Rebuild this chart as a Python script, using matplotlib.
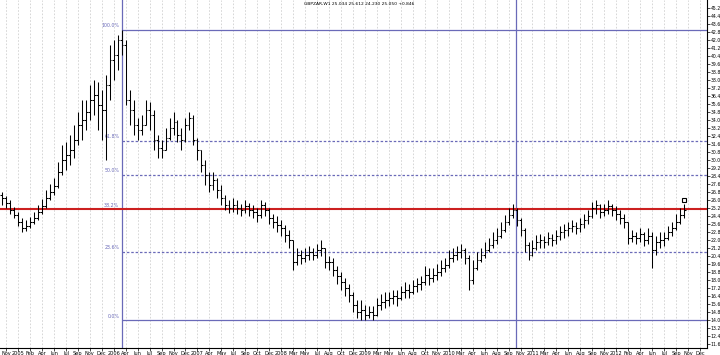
import matplotlib
matplotlib.use("Agg")
import matplotlib.pyplot as plt
import numpy as np
import pandas as pd

# bar data (high, low, close)
highs = [26.8, 26.4, 26.0, 25.3, 24.8, 24.2, 24.0, 24.3, 24.8, 25.5,
         26.1, 27.0, 27.6, 28.2, 29.8, 31.5, 31.8, 32.5, 33.5, 34.8,
         36.0, 36.0, 37.5, 38.0, 37.8, 37.0, 38.5, 41.5, 42.0, 42.5,
         43.0, 42.0, 37.0, 36.0, 34.2, 34.5, 36.0, 35.8, 35.0, 32.5,
         32.0, 33.2, 34.2, 34.8, 34.0, 33.2, 34.2, 34.8, 34.5, 32.2,
         31.0, 30.0, 28.8, 28.8, 28.2, 27.5, 26.5, 26.0, 26.2, 26.0,
         25.6, 26.0, 25.7, 25.5, 25.2, 26.0, 25.8, 25.2, 24.6, 24.4,
         24.0, 23.5, 23.0, 22.0, 21.2, 21.0, 21.2, 21.4, 21.2, 21.6,
         22.0, 21.2, 20.4, 20.2, 19.4, 18.8, 18.2, 17.6, 16.8, 16.0,
         16.0, 15.5, 15.4, 15.4, 16.2, 16.6, 16.8, 16.8, 17.0, 17.0,
         17.4, 17.8, 17.6, 18.0, 18.2, 18.4, 19.4, 19.2, 19.2, 19.6,
         20.0, 20.2, 21.0, 21.2, 21.4, 21.6, 21.2, 20.5, 20.0, 20.8,
         21.2, 21.8, 22.2, 22.8, 23.2, 23.8, 24.5, 25.2, 25.6, 25.2,
         24.2, 23.2, 21.8, 22.0, 22.5, 22.6, 22.4, 22.8, 22.6, 23.0,
         23.4, 23.6, 23.8, 24.0, 23.8, 24.2, 24.6, 25.0, 25.8, 26.0,
         25.6, 25.6, 26.0, 25.6, 25.4, 25.0, 24.6, 23.8, 23.0, 22.8,
         23.2, 22.8, 23.2, 22.8, 22.4, 22.8, 22.8, 23.4, 23.8, 24.6,
         25.2, 25.6]
lows = [25.5, 25.2, 24.6, 24.2, 23.4, 22.8, 22.9, 23.2, 23.6, 24.0,
        24.6, 25.2, 26.0, 26.5, 27.2, 28.5, 29.0, 29.5, 30.2, 31.5,
        32.0, 33.0, 34.0, 34.5, 33.0, 32.0, 30.0, 36.0, 38.0, 39.0,
        40.5, 35.5, 33.5, 32.5, 32.0, 32.5, 33.5, 33.0, 31.0, 30.2,
        30.2, 31.0, 32.0, 32.5, 31.8, 31.0, 31.8, 33.0, 31.5, 30.0,
        28.8, 27.5, 26.8, 27.0, 26.2, 25.5, 25.0, 24.7, 24.8, 24.6,
        24.4, 24.7, 24.4, 24.2, 23.8, 24.2, 24.4, 23.6, 23.2, 22.8,
        22.4, 21.8, 21.2, 19.0, 19.5, 19.6, 19.8, 20.0, 20.0, 20.2,
        20.4, 19.2, 19.0, 18.4, 17.6, 17.0, 16.4, 15.8, 14.8, 14.2,
        14.0, 14.0, 14.2, 14.0, 14.4, 15.0, 15.2, 15.4, 15.6, 15.4,
        16.0, 16.2, 16.2, 16.6, 16.8, 17.0, 17.5, 17.5, 17.8, 18.0,
        18.4, 18.8, 19.2, 19.8, 20.0, 20.2, 19.6, 17.0, 17.6, 19.0,
        19.8, 20.2, 20.8, 21.2, 21.6, 22.2, 22.8, 23.5, 24.2, 23.4,
        22.4, 20.8, 20.0, 20.4, 21.0, 21.2, 21.2, 21.5, 21.4, 21.6,
        22.0, 22.2, 22.4, 22.8, 22.6, 22.8, 23.2, 23.6, 24.2, 24.6,
        24.2, 24.4, 24.6, 24.4, 24.0, 23.6, 23.2, 21.6, 21.8, 21.6,
        21.8, 21.4, 21.6, 19.2, 20.5, 21.2, 21.4, 22.0, 22.4, 23.0,
        23.6, 24.2]
closes = [26.2, 25.7, 25.0, 24.5, 23.8, 23.2, 23.4, 23.8, 24.2, 24.8,
          25.4, 26.2, 26.8, 27.4, 28.8, 30.0, 30.5, 31.0, 32.0, 33.5,
          34.0, 34.8, 36.0, 36.5, 35.5, 35.0, 37.5, 40.0, 40.5, 42.0,
          41.5, 36.0, 35.0, 33.5, 33.0, 33.5, 35.0, 34.5, 32.0, 31.2,
          31.0, 32.2, 33.2, 33.8, 32.5, 32.0, 33.5, 34.2, 32.0, 31.0,
          29.5, 28.5, 27.5, 28.0, 27.0, 26.2, 25.5, 25.2, 25.5, 25.2,
          25.0, 25.4, 25.0, 24.8, 24.5, 25.5, 25.0, 24.2, 23.8, 23.5,
          23.2, 22.5, 22.0, 19.8, 20.5, 20.2, 20.5, 20.8, 20.5, 21.0,
          21.2, 19.8, 19.8, 19.0, 18.4, 17.8, 17.2, 16.5, 15.5, 14.8,
          15.0, 14.5, 14.8, 14.5, 15.5, 15.8, 16.0, 16.2, 16.4, 16.2,
          16.8, 17.0, 16.8, 17.4, 17.6, 17.8, 18.5, 18.2, 18.5, 18.8,
          19.2, 19.5, 20.2, 20.5, 20.8, 21.0, 20.2, 18.0, 19.2, 20.0,
          20.5, 21.0, 21.5, 22.0, 22.4, 23.0, 23.8, 24.5, 25.0, 24.0,
          23.0, 21.5, 20.5, 21.2, 21.8, 22.0, 21.8, 22.2, 22.0, 22.4,
          22.8, 23.0, 23.2, 23.4, 23.2, 23.6, 24.0, 24.4, 25.2, 25.5,
          24.8, 25.0, 25.4, 25.0, 24.6, 24.2, 23.8, 22.2, 22.4, 22.2,
          22.6, 22.0, 22.4, 21.0, 21.8, 22.0, 22.2, 22.8, 23.2, 23.8,
          24.5, 25.0]

fib_low, fib_high = 14.0, 43.0
fib_ratios = [0.0, 0.236, 0.382, 0.5, 0.618, 1.0]
fib_names = ["0.0%", "23.6%", "38.2%", "50.0%", "61.8%", "100.0%"]
fib_start = 30          # bar of the swing high
second_line = 128.75    # second vertical marker
last_marker = 26.0

title = "GBPZAR,W1 25.034 25.612 24.230 25.050 +0.846"

n = len(closes)
idx = np.arange(n)
c = np.array(closes)
o = np.concatenate([[c[0] + 0.3], c[:-1]])
hi = np.maximum(np.array(highs), np.maximum(o, c))
lo = np.minimum(np.array(lows), np.minimum(o, c))

fig = plt.figure(figsize=(7.2, 3.55), dpi=100)
ax = fig.add_axes([0, 7 / 355, 707 / 720, 348 / 355])

ax.set_xlim(-0.5, 176.75)
ax.set_ylim(11.2, 46.0)

# vertical dotted grid + date labels
dates = pd.date_range("2004-11-01", periods=n + 6, freq="17D")
gpos = np.arange(1, 177, 3)
labels = []
prev_year = None
for g in gpos:
    d = dates[min(g, len(dates) - 1)]
    if d.year != prev_year and prev_year is not None:
        labels.append(str(d.year))
    else:
        labels.append(d.strftime("%b"))
    prev_year = d.year
for g in gpos:
    ax.axvline(g, color="#d0d0d0", lw=0.6, ls=(0, (2, 2)), zorder=0)
ax.set_xticks(gpos)
ax.set_xticklabels(labels, fontsize=3.6)
ax.tick_params(axis="x", length=2, width=0.5, pad=0.5)

# fibonacci levels
blue = "#6a6ab8"
for r, name in zip(fib_ratios, fib_names):
    lvl = fib_low + r * (fib_high - fib_low)
    if r == 0.382:
        ax.axhline(lvl, color="#cc2020", lw=1.5, zorder=3)
    elif r in (0.0, 1.0):
        ax.hlines(lvl, fib_start, 176.75, color=blue, lw=0.9, zorder=1)
    else:
        ax.hlines(lvl, fib_start, 176.75, color=blue, lw=0.9,
                  ls=(0, (2, 1.5)), zorder=1)
    ax.text(fib_start - 0.6, lvl + 0.15, name, fontsize=3.4, color=blue,
            ha="right", va="bottom")
ax.axvline(fib_start, color=blue, lw=0.9, zorder=1)
ax.axvline(second_line, color=blue, lw=0.9, zorder=1)

# OHLC bars
ax.vlines(idx, lo, hi, color="black", lw=0.75, zorder=4)
ax.hlines(o, idx - 0.45, idx, color="black", lw=0.75, zorder=4)
ax.hlines(c, idx, idx + 0.45, color="black", lw=0.75, zorder=4)
ax.plot(n - 1, last_marker, marker="s", ms=3, mfc="white", mec="black",
        mew=0.8, zorder=5)

# price axis on the right
ax.yaxis.tick_right()
yt = np.arange(11.6, 46.0, 0.8)
ax.set_yticks(yt)
ax.set_yticklabels([f"{v:.1f}" for v in yt], fontsize=3.3)
ax.tick_params(axis="y", length=2, width=0.5, pad=0.6)

for s in ["top", "left"]:
    ax.spines[s].set_visible(False)
ax.spines["right"].set_linewidth(0.8)
ax.spines["bottom"].set_linewidth(0.8)

ax.text(0.43, 0.995, title, transform=ax.transAxes, fontsize=3.2,
        ha="left", va="top")

fig.savefig("out.png", dpi=100)
